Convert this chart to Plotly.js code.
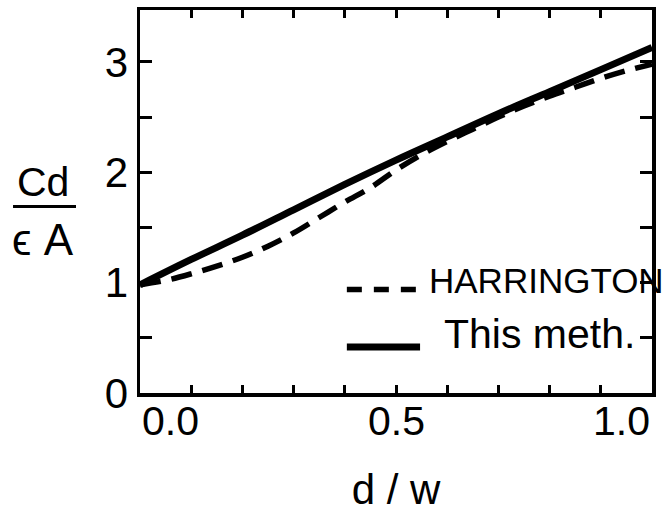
<!DOCTYPE html>
<html>
<head>
<meta charset="utf-8">
<script src="https://cdn.plot.ly/plotly-3.0.1.min.js"></script>
<style>html,body{margin:0;padding:0;background:#fff;}</style>
</head>
<body>
<div id="chart" style="width:670px;height:514px;"></div>
<script>
// ---- data ----
const dwThis = [0.0, 0.1, 0.2, 0.3, 0.4, 0.5, 0.6, 0.7, 0.8, 0.9, 1.0];
const thisMethod = [0.98, 1.21, 1.43, 1.66, 1.89, 2.11, 2.32, 2.53, 2.73, 2.93, 3.13];
const dwHarr = [0.0, 0.05, 0.1, 0.15, 0.2, 0.25, 0.3, 0.35, 0.4, 0.45, 0.5, 0.55, 0.6, 0.65, 0.7, 0.75, 0.8, 0.85, 0.9, 0.95, 1.0];
const harrington = [0.98, 1.02, 1.08, 1.15, 1.23, 1.33, 1.45, 1.59, 1.73, 1.86, 2.02, 2.16, 2.28, 2.39, 2.50, 2.60, 2.69, 2.77, 2.85, 2.92, 2.98];
const seriesNames = ["HARRINGTON", "This meth."];
const xTickVals = [0, 0.1, 0.2, 0.3, 0.4, 0.5, 0.6, 0.7, 0.8, 0.9, 1.0];
const xTickText = ["0.0", "", "", "", "", "0.5", "", "", "", "", "1.0"];
const yTickVals = [0, 0.5, 1, 1.5, 2, 2.5, 3];
const yTickText = ["0", "", "1", "", "2", "", "3"];
const xTitle = "d / w";
const yTitleTop = "Cd";
const yTitleBottom = "\u03F5 A";

const FONT = "'Liberation Sans', Arial, sans-serif";

const traces = [
  {x: dwHarr, y: harrington, mode: "lines", name: seriesNames[0],
   line: {color: "#000", width: 5.5, dash: "21px,11px", shape: "spline"}},
  {x: dwThis, y: thisMethod, mode: "lines", name: seriesNames[1],
   line: {color: "#000", width: 7, shape: "spline"}}
];

// x tick labels as annotations so the end labels sit inside like the original
const annotations = xTickVals.map((v, i) => ({
  x: v, xref: "x", y: 0, yref: "paper", yshift: -28,
  text: xTickText[i], showarrow: false,
  xanchor: i === 0 ? "left" : (i === xTickVals.length - 1 ? "right" : "center"),
  yanchor: "middle",
  font: {family: FONT, size: 41, color: "#000"}
})).filter(a => a.text !== "");

// y title (fraction)
annotations.push({x: -0.190, xref: "paper", y: 0.55, yref: "paper", text: yTitleTop,
  showarrow: false, xanchor: "center", yanchor: "middle", font: {family: FONT, size: 41, color: "#000"}});
annotations.push({x: -0.190, xref: "paper", y: 0.40, yref: "paper", text: yTitleBottom,
  showarrow: false, xanchor: "center", yanchor: "middle", font: {family: FONT, size: 44, color: "#000"}});

// legend texts
annotations.push({x: 0.561, xref: "paper", y: 0.295, yref: "paper", text: seriesNames[0],
  showarrow: false, xanchor: "left", yanchor: "middle", font: {family: FONT, size: 35, color: "#000"}});
annotations.push({x: 0.590, xref: "paper", y: 0.155, yref: "paper", text: seriesNames[1],
  showarrow: false, xanchor: "left", yanchor: "middle", font: {family: FONT, size: 41, color: "#000"}});

const shapes = [
  // fraction bar of y title
  {type: "line", xref: "paper", yref: "paper", x0: -0.248, x1: -0.125, y0: 0.487, y1: 0.487,
   line: {color: "#000", width: 3}},
  // legend samples
  {type: "line", xref: "paper", yref: "paper", x0: 0.404, x1: 0.542, y0: 0.270, y1: 0.270,
   line: {color: "#000", width: 5.5, dash: "15px,12px"}},
  {type: "line", xref: "paper", yref: "paper", x0: 0.404, x1: 0.547, y0: 0.120, y1: 0.120,
   line: {color: "#000", width: 7}}
];

const layout = {
  width: 670, height: 514,
  margin: {l: 140, r: 18, t: 10, b: 121},
  paper_bgcolor: "#fff", plot_bgcolor: "#fff",
  showlegend: false,
  xaxis: {
    range: [0, 1.0], tickvals: xTickVals, ticktext: xTickText, showticklabels: false,
    ticks: "inside", ticklen: 8, tickwidth: 3, tickcolor: "#000",
    showline: true, linecolor: "#000", linewidth: 3.5, mirror: "ticks",
    showgrid: false, zeroline: false,
    title: {text: xTitle, font: {family: FONT, size: 42, color: "#000"}, standoff: 80}
  },
  yaxis: {
    range: [0, 3.47], tickvals: yTickVals, ticktext: yTickText,
    ticks: "inside", ticklen: 12, tickwidth: 3, tickcolor: "#000",
    tickfont: {family: FONT, size: 42, color: "#000"},
    showline: true, linecolor: "#000", linewidth: 3.5, mirror: "ticks",
    showgrid: false, zeroline: false
  },
  annotations: annotations,
  shapes: shapes
};

Plotly.newPlot("chart", traces, layout, {displayModeBar: false, staticPlot: true});
</script>
</body>
</html>
